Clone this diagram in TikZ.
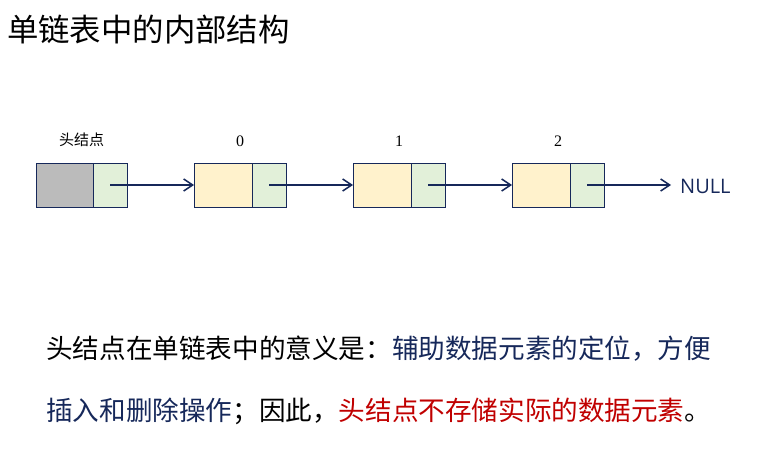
\documentclass[tikz,border=0pt]{standalone}
\usepackage{fontspec}
\usepackage{tikz}
\usepackage{xcolor}
\usetikzlibrary{calc, positioning, arrows.meta}
\newfontfamily\cjk{Noto Sans CJK SC}
\newfontfamily\numfont{Liberation Serif}
\newfontfamily\endfont{Open Sans}
\definecolor{navy}{HTML}{16285A}
\definecolor{crimson}{HTML}{C00000}
\definecolor{headgray}{HTML}{BBBBBB}
\definecolor{ptrgreen}{HTML}{E2F0D9}
\definecolor{datapeach}{HTML}{FFF2CC}

\begin{document}
\begin{tikzpicture}[
      x=1pt, y=-1pt,
      >={Straight Barb[length=9pt,width=12pt]},
      cell/.style={draw=navy, line width=0.8pt, minimum height=44pt,
                   inner sep=0pt, outer sep=0pt},
      datacell/.style={cell, fill=datapeach, minimum width=58pt},
      ptrcell/.style={cell, fill=ptrgreen, minimum width=34pt},
      idx/.style={font=\numfont\fontsize{16}{18}\selectfont, inner sep=0pt},
      link/.style={->, line width=1.5pt, draw=navy},
      body/.style={font=\cjk\fontsize{26.6}{30}\selectfont, anchor=west, inner sep=0pt}
  ]
    \useasboundingbox (0,0) rectangle (763,449);
    % title
    \node[font=\cjk\fontsize{31.4}{34}\selectfont, anchor=west, inner sep=0pt] (title)
      at (7,30) {单链表中的内部结构};
    % head node and list nodes
    \node[cell, fill=headgray, minimum width=57pt, anchor=north west] (h-d) at (36,163) {};
    \node[ptrcell, right=0pt of h-d] (h-p) {};
    \node[datacell, right=67pt of h-p] (n0-d) {};
    \node[ptrcell, right=0pt of n0-d] (n0-p) {};
    \node[datacell, right=67pt of n0-p] (n1-d) {};
    \node[ptrcell, right=0pt of n1-d] (n1-p) {};
    \node[datacell, right=67pt of n1-p] (n2-d) {};
    \node[ptrcell, right=0pt of n2-d] (n2-p) {};
    \node[font=\endfont\fontsize{20}{22}\selectfont, text=navy, anchor=west, inner sep=0pt]
      (null) at ($(n2-p.east)+(76,1)$) {NULL};
    % labels
    \node[font=\cjk\fontsize{15}{16}\selectfont, above=13pt] (h-lbl)
      at ($(h-d.north west)!0.5!(h-p.north east)$) {头结点};
    \node[idx, above=16.5pt] (n0-lbl) at ($(n0-d.north west)!0.5!(n0-p.north east)$) {0};
    \node[idx, above=16.5pt] (n1-lbl) at ($(n1-d.north west)!0.5!(n1-p.north east)$) {1};
    \node[idx, above=16.5pt] (n2-lbl) at ($(n2-d.north west)!0.5!(n2-p.north east)$) {2};
    % links
    \draw[link] (h-p.center)  -- (n0-d.west);
    \draw[link] (n0-p.center) -- (n1-d.west);
    \draw[link] (n1-p.center) -- (n2-d.west);
    \draw[link] (n2-p.center) -- ($(null.west)+(-9,-1)$);
    % explanation
    \node[body] (line1) at (46,349)
      {头结点在单链表中的意义是：\textcolor{navy}{辅助数据元素的定位，方便}};
    \node[body] (line2) at (46,411)
      {\textcolor{navy}{插入和删除操作}；因此，\textcolor{crimson}{头结点不存储实际的数据元素}。};
  \end{tikzpicture}
\end{document}
